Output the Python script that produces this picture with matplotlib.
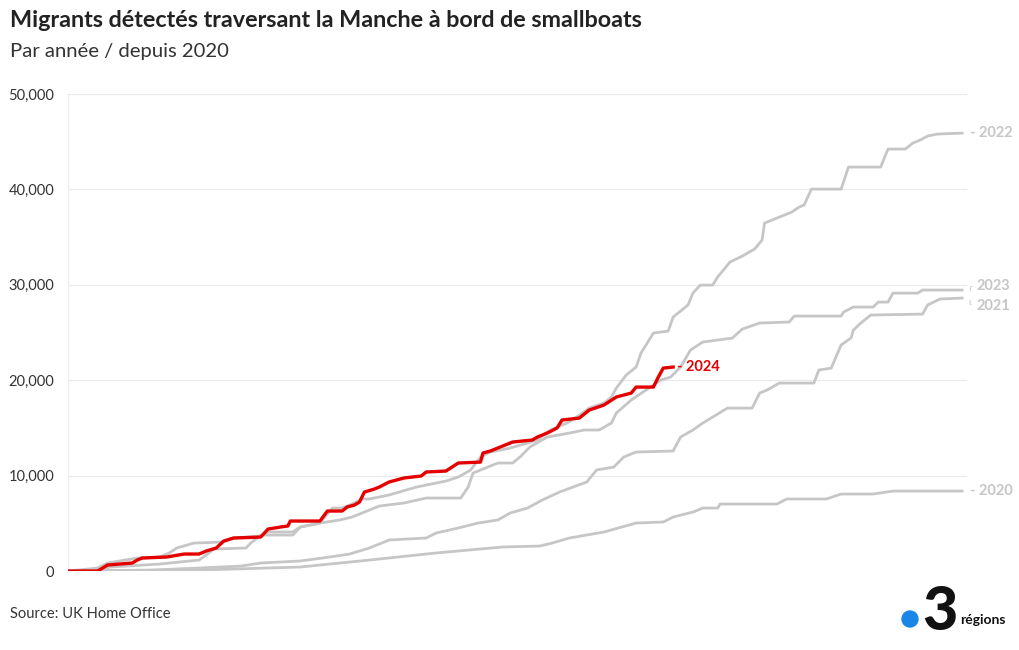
import numpy as np
import matplotlib.pyplot as plt
from matplotlib.ticker import FuncFormatter
from matplotlib.patches import Ellipse

plt.rcParams['font.family'] = ['Lato', 'DejaVu Sans']

# cumulative crossings, (day of year, total)
days_2020 = [1, 54, 95, 123, 150, 177, 192, 197, 204, 218, 231, 242, 246, 254, 258, 264, 265, 288, 292, 308, 314, 327, 335, 363]
vals_2020 = [0, 100, 420, 1150, 1890, 2520, 2620, 2930, 3460, 4090, 5030, 5140, 5660, 6180, 6600, 6600, 7020, 7020, 7550, 7550, 8070, 8070, 8380, 8380]

days_2021 = [1, 34, 54, 71, 79, 95, 107, 115, 123, 131, 146, 150, 159, 167, 175, 180, 187, 193, 200, 211, 215, 222, 226, 231, 246, 249, 254, 258, 262, 268, 278, 281, 284, 289, 303, 305, 310, 314, 318, 319, 322, 326, 347, 349, 354, 363]
vals_2021 = [0, 100, 310, 520, 840, 1050, 1470, 1780, 2410, 3250, 3460, 3980, 4510, 5030, 5350, 6080, 6600, 7440, 8280, 9330, 10590, 10900, 11950, 12470, 12580, 14040, 14780, 15510, 16140, 17080, 17080, 18650, 18970, 19700, 19700, 21070, 21270, 23690, 24420, 25260, 25990, 26830, 26930, 27880, 28510, 28610]

days_2022 = [1, 13, 17, 29, 38, 42, 45, 52, 64, 68, 79, 82, 92, 95, 103, 108, 112, 116, 120, 123, 131, 142, 150, 154, 159, 164, 168, 172, 180, 187, 191, 195, 199, 203, 207, 212, 218, 221, 223, 227, 231, 233, 238, 244, 246, 252, 254, 257, 262, 264, 269, 274, 279, 282, 283, 289, 294, 297, 299, 302, 314, 317, 330, 333, 340, 343, 346, 349, 353, 363]
vals_2022 = [0, 310, 840, 1360, 1470, 1890, 2410, 2930, 3040, 3460, 3670, 4090, 4090, 4610, 5030, 6600, 6600, 7020, 7550, 7550, 7970, 8800, 9220, 9430, 9850, 10590, 11950, 12470, 12890, 13410, 13730, 14570, 15090, 15510, 16140, 17080, 17610, 18240, 19180, 20540, 21380, 22850, 24940, 25150, 26620, 27880, 29130, 29970, 29970, 30810, 32380, 33010, 33750, 34690, 36470, 37100, 37620, 38150, 38360, 40030, 40030, 42340, 42340, 44230, 44230, 44850, 45170, 45590, 45800, 45900]

days_2023 = [1, 13, 18, 38, 54, 57, 60, 73, 75, 79, 92, 95, 103, 111, 116, 123, 127, 137, 146, 160, 163, 165, 171, 175, 181, 184, 188, 195, 204, 210, 216, 221, 223, 229, 235, 241, 245, 249, 253, 258, 270, 274, 281, 293, 295, 314, 315, 319, 327, 329, 333, 335, 345, 347, 363]
vals_2023 = [0, 100, 420, 730, 1150, 1680, 2310, 2410, 2930, 3770, 3770, 4610, 5030, 5350, 5660, 6390, 6810, 7130, 7650, 7650, 8800, 10270, 10900, 11320, 11320, 11950, 13000, 14040, 14460, 14780, 14780, 15510, 16560, 17920, 18970, 20020, 20330, 21380, 23160, 24000, 24420, 25360, 25990, 26100, 26720, 26720, 27140, 27670, 27670, 28190, 28190, 29130, 29130, 29450, 29450]

days_2024 = [1, 13, 17, 27, 29, 31, 41, 48, 54, 57, 61, 64, 68, 79, 82, 87, 90, 91, 103, 106, 112, 114, 117, 119, 121, 125, 127, 131, 137, 144, 146, 154, 159, 168, 169, 172, 176, 181, 189, 191, 195, 199, 201, 208, 212, 218, 223, 229, 231, 238, 240, 242, 246]
vals_2024 = [0, 0, 630, 840, 1150, 1360, 1470, 1780, 1780, 2100, 2410, 3140, 3460, 3560, 4400, 4610, 4720, 5240, 5240, 6290, 6290, 6710, 6920, 7230, 8280, 8590, 8800, 9330, 9750, 9960, 10380, 10480, 11320, 11420, 12370, 12580, 13000, 13520, 13730, 14040, 14460, 14990, 15830, 16030, 16870, 17400, 18240, 18650, 19280, 19280, 20330, 21270, 21380]

grey_series = [('2020', days_2020, vals_2020),
               ('2021', days_2021, vals_2021),
               ('2022', days_2022, vals_2022),
               ('2023', days_2023, vals_2023)]
y_ticks = [0, 10000, 20000, 30000, 40000, 50000]

grey = '#c6c6c6'
red = '#e50000'

fig = plt.figure(figsize=(10.2, 6.5), dpi=100)
ax = fig.add_axes([0.0667, 0.1215, 0.8814, 0.7339])

for name, d, v in grey_series:
    ax.plot(d, v, color=grey, lw=2.0, solid_joinstyle='round', zorder=2)
ax.plot(days_2024, vals_2024, color=red, lw=2.4, solid_joinstyle='round', zorder=3)

ax.set_xlim(1, 365)
ax.set_ylim(0, 50000)
ax.set_yticks(y_ticks)
ax.yaxis.set_major_formatter(FuncFormatter(lambda v, p: f'{int(v):,}'))
ax.set_xticks([])
ax.tick_params(axis='y', length=0, pad=10, labelsize=10.5, labelcolor='#333333')
ax.grid(axis='y', color='#e9e9e9', lw=0.8)
ax.set_axisbelow(True)
for s in ['top', 'right', 'bottom']:
    ax.spines[s].set_visible(False)
ax.spines['left'].set_color('#ececec')
ax.spines['left'].set_linewidth(0.8)

# end labels
lab_kw = dict(fontsize=10.5, fontweight='bold', va='center', ha='left', clip_on=False)
ax.text(366, vals_2022[-1], '- 2022', color=grey, **lab_kw)
ax.text(368.8, 29900, '2023', color=grey, **lab_kw)
ax.text(368.8, 27800, '2021', color=grey, **lab_kw)
ax.text(365.6, 29650, 'ɾ', color=grey, fontsize=7, va='center', ha='left', clip_on=False)
ax.text(365.6, 28150, 'ɩ', color=grey, fontsize=7, va='center', ha='left', clip_on=False)
ax.text(366, vals_2020[-1], '- 2020', color=grey, **lab_kw)
ax.text(days_2024[-1] + 1.5, vals_2024[-1], '- 2024', color=red, **lab_kw)

# titles and footer
fig.text(0.010, 0.968, 'Migrants détectés traversant la Manche à bord de smallboats',
         fontsize=16.8, fontweight='bold', color='#222222', va='center')
fig.text(0.010, 0.920, 'Par année / depuis 2020', fontsize=14.6, color='#333333', va='center')
fig.text(0.010, 0.055, 'Source: UK Home Office', fontsize=10.6, color='#333333', va='center')

# logo
fig.patches.append(Ellipse((910 / 1020, 1 - 619 / 650), 16 / 1020, 16 / 650,
                           transform=fig.transFigure, color='#1a86e8', figure=fig))
fig.text(940 / 1020, 1 - 612 / 650, '3', fontsize=44, fontweight='black', color='#111111',
         ha='center', va='center')
fig.text(960 / 1020, 1 - 620 / 650, 'régions', fontsize=10, fontweight='bold', color='#111111',
         va='center')

fig.savefig('out.png', dpi=100)
